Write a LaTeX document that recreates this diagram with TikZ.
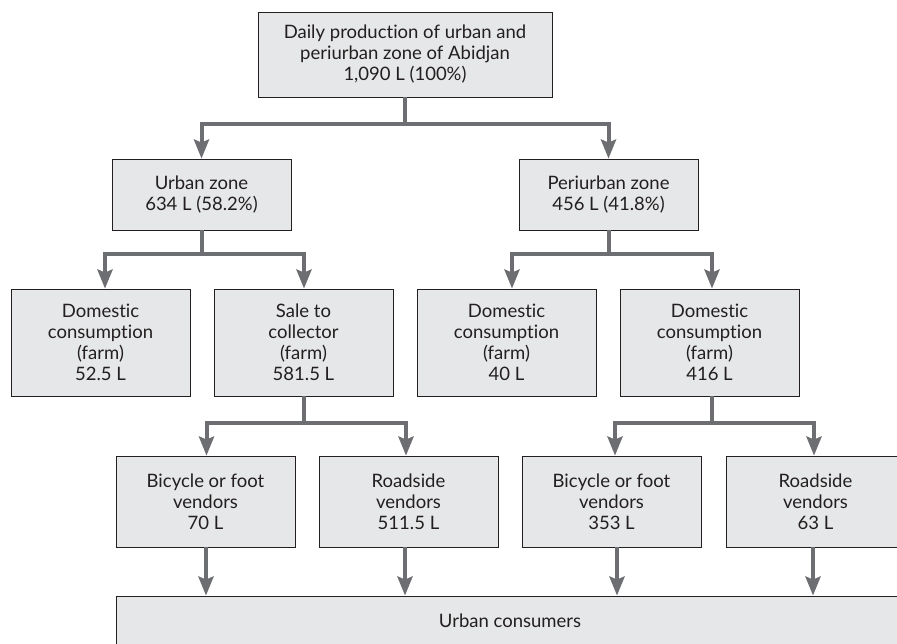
\documentclass[tikz,border=0pt]{standalone}
\usepackage{fontspec}
\setmainfont{Lato}[Ligatures=NoCommon]
\usetikzlibrary{arrows.meta}
\definecolor{boxfill}{HTML}{E6E7E8}
\definecolor{boxline}{HTML}{231F20}
\definecolor{flow}{HTML}{6D6E71}
\begin{document}
\begin{tikzpicture}[x=1pt,y=-1pt,
  box/.style={draw=boxline, line width=0.8pt, fill=boxfill, align=center,
    inner sep=0pt, minimum width=179pt, text=boxline,
    font=\fontsize{18.5}{21}\selectfont},
  conn/.style={draw=flow, line width=4pt, line join=miter},
  flowarrow/.style={conn, -{Stealth[length=19pt,width=15pt,inset=3pt]}}]
\useasboundingbox (0,0) rectangle (897,644);
\clip (0,0) rectangle (897,644);

% source
\node[box, minimum width=294pt, minimum height=85pt] (top) at (405,54.5)
  {Daily production of urban and\\periurban zone of Abidjan\\1,090 L (100\%)};

% zones
\node[box, minimum height=71pt] (urban) at (201.5,194.5) {Urban zone\\634 L (58.2\%)};
\node[box, minimum height=71pt] (peri) at (608.5,194.5) {Periurban zone\\456 L (41.8\%)};

% farm-level uses
\node[box, minimum height=107pt] (dom1) at (100.5,342.5) {Domestic\\consumption\\(farm)\\52.5 L};
\node[box, minimum height=107pt] (sale) at (303.5,342.5) {Sale to\\collector\\(farm)\\581.5 L};
\node[box, minimum height=107pt] (dom2) at (506.5,342.5) {Domestic\\consumption\\(farm)\\40 L};
\node[box, minimum height=107pt] (dom3) at (709.5,342.5) {Domestic\\consumption\\(farm)\\416 L};

% vendors
\node[box, minimum height=91pt] (bike1) at (205.5,501.5) {Bicycle or foot\\vendors\\70 L};
\node[box, minimum height=91pt] (road1) at (408.5,501.5) {Roadside\\vendors\\511.5 L};
\node[box, minimum height=91pt] (bike2) at (611.5,501.5) {Bicycle or foot\\vendors\\353 L};
\node[box, minimum height=91pt] (road2) at (815.5,501.5) {Roadside\\vendors\\63 L};

% consumers
\node[box, minimum width=788pt, minimum height=50pt] (cons) at (510,621) {Urban consumers};

% junctions
\coordinate (j0) at (top.south |- 0,124);
\coordinate (j1) at (urban.south |- 0,254);
\coordinate (j2) at (peri.south |- 0,254);
\coordinate (j3) at ([xshift=0.5pt]sale.south |- 0,423);
\coordinate (j4) at ([xshift=2.5pt]dom3.south |- 0,423);

% split connectors
\draw[conn] (top.south) -- (j0);
\draw[flowarrow] (j0) -| (urban.north);
\draw[flowarrow] (j0) -| (peri.north);

\draw[conn] (urban.south) -- (j1);
\draw[flowarrow] (j1) -| ([xshift=4.5pt]dom1.north);
\draw[flowarrow] (j1) -| ([xshift=0.5pt]sale.north);

\draw[conn] (peri.south) -- (j2);
\draw[flowarrow] (j2) -| ([xshift=5.5pt]dom2.north);
\draw[flowarrow] (j2) -| ([xshift=2.5pt]dom3.north);

\draw[conn] ([xshift=0.5pt]sale.south) -- (j3);
\draw[flowarrow] (j3) -| ([xshift=1pt]bike1.north);
\draw[flowarrow] (j3) -| ([xshift=-2.5pt]road1.north);

\draw[conn] ([xshift=2.5pt]dom3.south) -- (j4);
\draw[flowarrow] (j4) -| ([xshift=3.5pt]bike2.north);
\draw[flowarrow] (j4) -| ([xshift=-1.5pt]road2.north);

% vendors to consumers
\draw[flowarrow] ([xshift=0.5pt]bike1.south) -- ([xshift=0.5pt]bike1.south |- cons.north);
\draw[flowarrow] ([xshift=-3.5pt]road1.south) -- ([xshift=-3.5pt]road1.south |- cons.north);
\draw[flowarrow] ([xshift=5.5pt]bike2.south) -- ([xshift=5.5pt]bike2.south |- cons.north);
\draw[flowarrow] ([xshift=-2.5pt]road2.south) -- ([xshift=-2.5pt]road2.south |- cons.north);
\end{tikzpicture}
\end{document}
